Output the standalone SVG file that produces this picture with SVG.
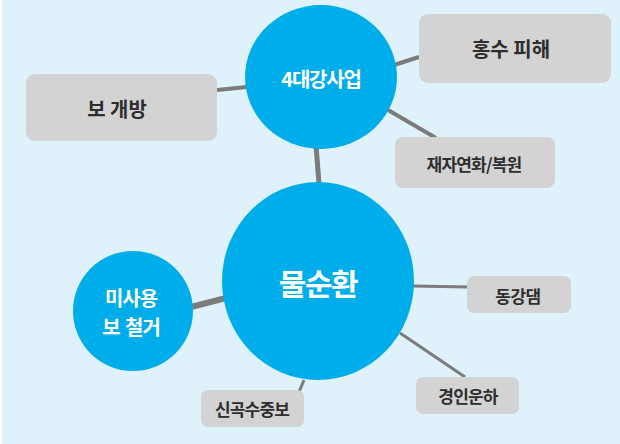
<svg xmlns="http://www.w3.org/2000/svg" width="620" height="444" viewBox="0 0 620 444">
<style>
.bg{fill:#dff1fb}
.c{fill:#00adeb}
.b{fill:#d3d3d3}
.l{stroke:#7b7b7b;stroke-linecap:butt;fill:none}
.t{font-family:"Noto Sans CJK KR","Noto Sans",sans-serif;font-weight:700;text-anchor:middle;dominant-baseline:central}
.w{fill:#ffffff}
.d{fill:#2e2e2e}
</style>
<rect x="0" y="0" width="620" height="444" class="bg"/>
<rect x="0" y="0" width="2" height="444" fill="#ffffff"/>
<g id="connectors">
<line class="l" x1="217" y1="90" x2="247" y2="87" stroke-width="4"/>
<line class="l" x1="394" y1="65" x2="419" y2="57" stroke-width="4"/>
<line class="l" x1="388" y1="110" x2="436" y2="138" stroke-width="4"/>
<line class="l" x1="316" y1="145" x2="319" y2="184" stroke-width="5"/>
<line class="l" x1="191" y1="307" x2="226" y2="298" stroke-width="6"/>
<line class="l" x1="412" y1="286" x2="468" y2="287" stroke-width="3"/>
<line class="l" x1="400" y1="333" x2="465" y2="377" stroke-width="3"/>
<line class="l" x1="304" y1="380" x2="299" y2="392" stroke-width="3"/>
</g>
<g id="n-4rivers">
<ellipse class="c" cx="321" cy="77" rx="76" ry="72"/>
<text class="t w" x="321" y="78" font-size="20" letter-spacing="-1.2">4대강사업</text>
</g>
<g id="n-flood">
<rect class="b" x="419" y="14" width="192" height="69" rx="9"/>
<text class="t d" x="511" y="48" font-size="20">홍수 피해</text>
</g>
<g id="n-open">
<rect class="b" x="26" y="74" width="191" height="67" rx="9"/>
<text class="t d" x="117" y="108" font-size="20">보 개방</text>
</g>
<g id="n-restore">
<rect class="b" x="395" y="137" width="160" height="51" rx="8"/>
<text class="t d" x="474" y="163" font-size="17" letter-spacing="-0.8">재자연화/복원</text>
</g>
<g id="n-water">
<ellipse class="c" cx="318" cy="281" rx="96" ry="99"/>
<text class="t w" x="318" y="282" font-size="30" letter-spacing="-1.5">물순환</text>
</g>
<g id="n-remove">
<ellipse class="c" cx="133" cy="311" rx="60" ry="60"/>
<text class="t w" x="131" y="297" font-size="20" letter-spacing="-1">미사용</text>
<text class="t w" x="131" y="326" font-size="20" letter-spacing="-1" word-spacing="2">보 철거</text>
</g>
<g id="n-donggang">
<rect class="b" x="467" y="276" width="104" height="37" rx="7"/>
<text class="t d" x="518" y="295" font-size="17" letter-spacing="-0.5">동강댐</text>
</g>
<g id="n-canal">
<rect class="b" x="416" y="377" width="103" height="37" rx="7"/>
<text class="t d" x="468" y="395" font-size="17" letter-spacing="-0.8">경인운하</text>
</g>
<g id="n-singok">
<rect class="b" x="201" y="390" width="103" height="37" rx="7"/>
<text class="t d" x="252" y="408" font-size="17" letter-spacing="-0.8">신곡수중보</text>
</g>
</svg>
